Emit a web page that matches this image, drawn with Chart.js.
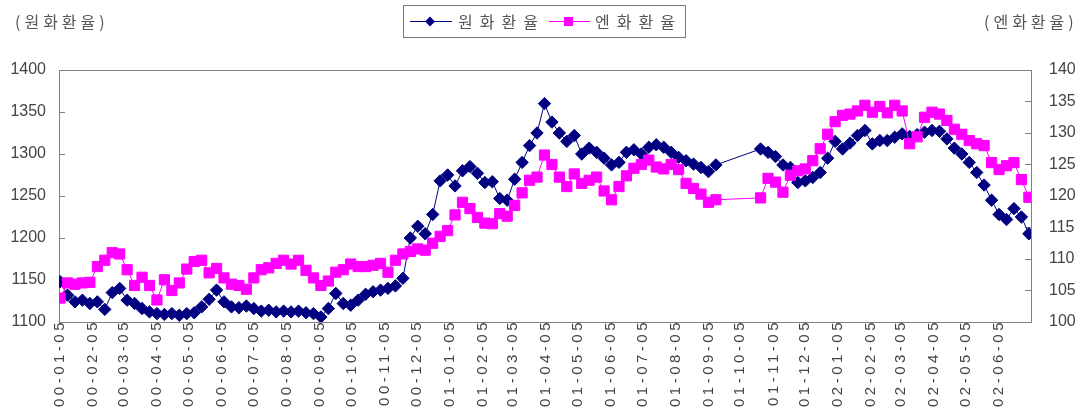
<!DOCTYPE html>
<html><head><meta charset="utf-8">
<script src="https://cdn.jsdelivr.net/npm/chart.js@4.4.0/dist/chart.umd.min.js"></script>
<style>html,body{margin:0;padding:0;background:#fff;}canvas{display:block;}</style>
</head><body>
<canvas id="c" width="1086" height="415"></canvas>
<script>
// ---- data ----
const seriesNames = ['원화환율', '엔화환율'];
const axisTitles = ['(원화환율)', '(엔화환율)'];
const startDate = [2000, 1, 5];          // first weekly observation
const stepDays = 7;                        // weekly observations
const tickLabels = ['00-01-05','00-02-05','00-03-05','00-04-05','00-05-05','00-06-05','00-07-05','00-08-05','00-09-05','00-10-05','00-11-05','00-12-05',
  '01-01-05','01-02-05','01-03-05','01-04-05','01-05-05','01-06-05','01-07-05','01-08-05','01-09-05','01-10-05','01-11-05','01-12-05',
  '02-01-05','02-02-05','02-03-05','02-04-05','02-05-05','02-06-05'];
const wonTicks = [1100, 1150, 1200, 1250, 1300, 1350, 1400];
const yenTicks = [100, 105, 110, 115, 120, 125, 130, 135, 140];
const wonRate = [1148,1132,1124,1126,1122,1124,1115,1135,1140,1126,
  1122,1116,1112,1110,1109,1110,1108,1110,1111,1118,
  1127,1138,1124,1118,1117,1119,1116,1113,1114,1112,
  1113,1112,1113,1111,1110,1106,1116,1134,1122,1120,
  1126,1133,1136,1138,1140,1143,1152,1200,1214,1205,
  1228,1268,1275,1262,1280,1285,1277,1266,1267,1247,
  1245,1270,1290,1310,1325,1360,1338,1325,1315,1322,
  1300,1307,1302,1295,1287,1290,1302,1305,1300,1308,
  1311,1308,1302,1296,1292,1288,1284,1279,1287,null,
  null,null,null,null,1306,1302,1297,1287,1284,1266,
  1268,1272,1278,1295,1315,1306,1313,1322,1328,1312,
  1316,1316,1320,1324,1321,1323,1326,1328,1327,1318,
  1307,1300,1290,1278,1263,1245,1228,1222,1235,1225,
  1205];
const yenRate = [103.8,106.2,106.0,106.2,106.3,108.8,109.8,111.0,110.8,108.3,
  105.8,107.1,105.8,103.5,106.7,105.0,106.2,108.4,109.6,109.8,
  107.8,108.5,107.0,106.0,105.8,105.2,107.0,108.3,108.6,109.3,
  109.8,109.2,109.8,108.2,107.0,105.8,106.5,107.9,108.3,109.2,
  108.8,108.8,109.0,109.3,107.9,109.8,110.8,111.2,111.6,111.4,
  112.5,113.6,114.5,117.0,119.0,118.0,116.6,115.7,115.6,117.2,
  116.8,118.5,120.5,122.5,123.0,126.5,125.0,123.0,121.5,123.5,
  122.0,122.5,123.0,120.8,119.4,121.5,123.2,124.4,125.0,125.7,
  124.6,124.3,125.0,124.2,122.0,121.2,120.3,119.0,119.4,null,
  null,null,null,null,119.7,122.8,122.2,120.6,123.3,124.0,
  124.3,125.6,127.5,129.8,131.8,132.8,133.0,133.5,134.4,133.3,
  134.2,133.2,134.4,133.5,128.3,129.4,132.5,133.3,133.0,132.0,
  130.6,129.8,128.8,128.3,128.0,125.3,124.2,124.8,125.3,122.6,
  119.8];

// ---- helpers ----
const t0 = Date.UTC(startDate[0], startDate[1] - 1, startDate[2]);
function dayOfLabel(lbl) {
  const p = lbl.split('-').map(Number);
  return (Date.UTC(2000 + p[0], p[1] - 1, p[2]) - t0) / 864e5;
}
const tickDays = tickLabels.map(dayOfLabel);
const toPoints = arr => arr.map((v, i) => ({x: i * stepDays, y: v}));

const NAVY = '#000080', MAGENTA = '#ff00ff', AXIS = '#808080', TXT = '#444444', KTXT = '#555555';
const KFONT = '"Noto Sans CJK KR", "Noto Sans", sans-serif';
const NFONT = '"Liberation Sans", Arial, sans-serif';

const decor = {
  id: 'decor',
  beforeDraw(chart) { chart.ctx.letterSpacing = '0px'; },
  afterDatasetsDraw(chart) { chart.ctx.letterSpacing = '3.5px'; },
  afterDraw(chart) {
    const ctx = chart.ctx, a = chart.chartArea;
    ctx.letterSpacing = '0px';
    ctx.save();
    ctx.strokeStyle = AXIS; ctx.lineWidth = 1;
    ctx.beginPath(); ctx.moveTo(a.left, a.top + 0.5); ctx.lineTo(a.right, a.top + 0.5); ctx.stroke();
    ctx.fillStyle = KTXT; ctx.font = '16px ' + KFONT; ctx.textBaseline = 'middle';
    ctx.letterSpacing = '4px';
    ctx.textAlign = 'left';
    ctx.fillText(axisTitles[0], 15, 22);
    ctx.fillText(axisTitles[1], 984, 22);
    ctx.letterSpacing = '0px';
    ctx.strokeStyle = '#7a7a7a';
    ctx.strokeRect(403.5, 5.5, 282, 32);
    const ly = 21.5;
    ctx.strokeStyle = NAVY; ctx.lineWidth = 1.2;
    ctx.beginPath(); ctx.moveTo(410, ly); ctx.lineTo(452, ly); ctx.stroke();
    ctx.fillStyle = NAVY;
    ctx.beginPath(); ctx.moveTo(430, ly - 5); ctx.lineTo(435, ly); ctx.lineTo(430, ly + 5); ctx.lineTo(425, ly); ctx.closePath(); ctx.fill();
    ctx.strokeStyle = MAGENTA;
    ctx.beginPath(); ctx.moveTo(549, ly); ctx.lineTo(590, ly); ctx.stroke();
    ctx.fillStyle = MAGENTA; ctx.fillRect(564, ly - 4.5, 9, 9);
    ctx.fillStyle = KTXT; ctx.font = '16px ' + KFONT; ctx.letterSpacing = '7px';
    ctx.fillText(seriesNames[0], 458, ly);
    ctx.fillText(seriesNames[1], 595, ly);
    ctx.restore();
    ctx.letterSpacing = '0px';
  }
};

new Chart(document.getElementById('c'), {
  type: 'line',
  data: {
    datasets: [
      { label: seriesNames[0], data: toPoints(wonRate), yAxisID: 'y', order: 1,
        borderColor: NAVY, backgroundColor: NAVY, borderWidth: 1, spanGaps: true,
        pointStyle: 'rectRot', pointRadius: 6.2, pointBorderWidth: 1,
        pointBackgroundColor: NAVY, pointBorderColor: NAVY, tension: 0 },
      { label: seriesNames[1], data: toPoints(yenRate), yAxisID: 'y2', order: 0,
        borderColor: MAGENTA, backgroundColor: MAGENTA, borderWidth: 1, spanGaps: true,
        pointStyle: 'rect', pointRadius: 7.2, pointBorderWidth: 1,
        pointBackgroundColor: MAGENTA, pointBorderColor: MAGENTA, tension: 0 }
    ]
  },
  options: {
    responsive: false, animation: false, devicePixelRatio: 1,
    layout: { padding: { top: 70, left: 0, right: 0, bottom: 0 } },
    plugins: { legend: { display: false }, tooltip: { enabled: false } },
    scales: {
      x: {
        type: 'linear', min: -1, max: 912,
        afterBuildTicks(s) { s.ticks = tickDays.map(v => ({ value: v })); },
        afterFit(s) { s.height = 93; },
        grid: { display: false, drawTicks: false },
        border: { display: true, color: AXIS, width: 1 },
        ticks: { autoSkip: false, minRotation: 90, maxRotation: 90, padding: -3, z: 1,
          color: TXT, font: { family: NFONT, size: 15 },
          callback: (v, i) => tickLabels[i] }
      },
      y: {
        position: 'left', min: 1100, max: 1400,
        afterBuildTicks(s) { s.ticks = wonTicks.map(v => ({ value: v })); },
        afterFit(s) { s.width = 59; },
        grid: { display: true, drawOnChartArea: false, drawTicks: true, tickLength: -6, color: AXIS },
        border: { display: true, color: AXIS, width: 1 },
        ticks: { padding: 19, color: TXT, font: { family: NFONT, size: 16 }, callback: v => String(v) }
      },
      y2: {
        position: 'right', min: 100, max: 140,
        afterBuildTicks(s) { s.ticks = yenTicks.map(v => ({ value: v })); },
        afterFit(s) { s.width = 55; },
        grid: { display: true, drawOnChartArea: false, drawTicks: true, tickLength: -6, color: AXIS },
        border: { display: true, color: AXIS, width: 1 },
        ticks: { padding: 24, color: TXT, font: { family: NFONT, size: 16 }, callback: v => String(v) }
      }
    }
  },
  plugins: [decor]
});
</script>
</body></html>
